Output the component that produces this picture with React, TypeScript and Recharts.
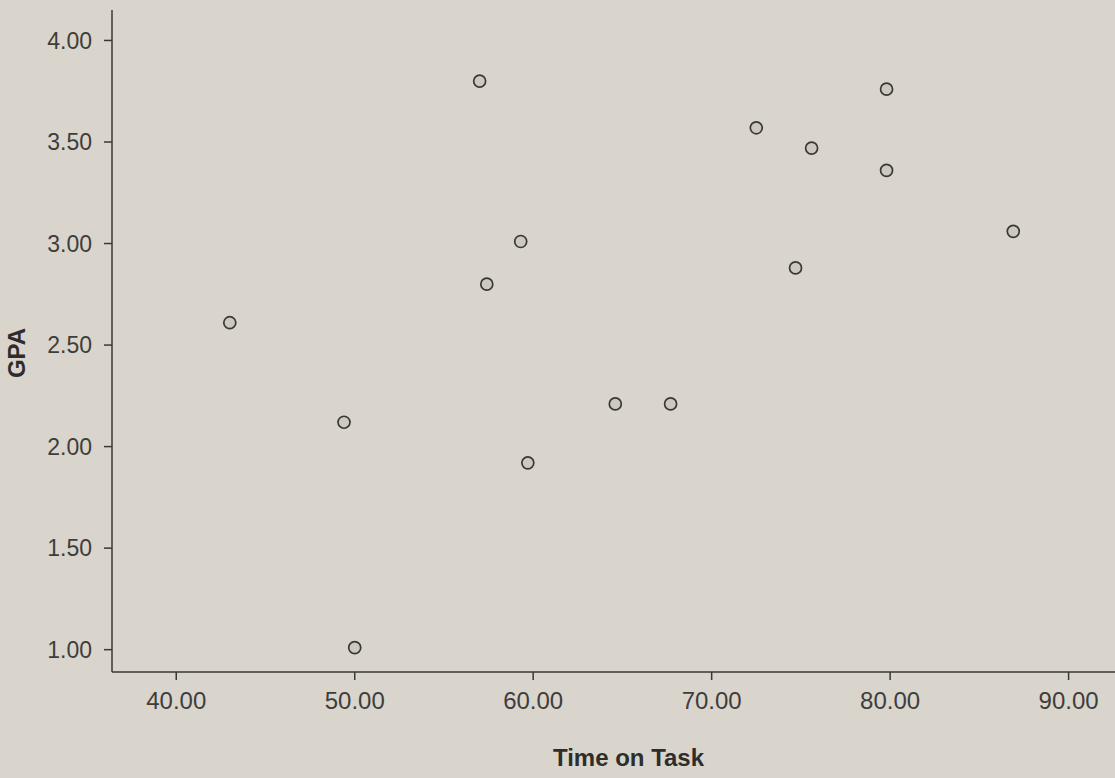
import React from "react";
import { ScatterChart, Scatter, XAxis, YAxis, Label } from "recharts";

const timeOnTask = [43.0, 49.4, 50.0, 57.0, 57.4, 59.3, 59.7, 64.6, 67.7, 72.5, 74.7, 75.6, 79.8, 79.8, 86.9];
const gpa = [2.61, 2.12, 1.01, 3.80, 2.80, 3.01, 1.92, 2.21, 2.21, 3.57, 2.88, 3.47, 3.76, 3.36, 3.06];
const xTicks = [40, 50, 60, 70, 80, 90];
const yTicks = [1.0, 1.5, 2.0, 2.5, 3.0, 3.5, 4.0];

const data = timeOnTask.map((t, i) => ({ x: t, y: gpa[i] }));

const Dot = (props: any) => {
  const { cx, cy } = props;
  if (cx == null || cy == null) return null;
  return <circle cx={cx} cy={cy} r={6} fill="#cdc8c0" stroke="#3a3836" strokeWidth={1.7} />;
};

const fmt = (v: number) => v.toFixed(2);
const FONT = "Liberation Sans, Arial, sans-serif";

export default function App() {
  return (
    <div style={{ position: "fixed", left: 0, top: 0, width: 1115, height: 778, background: "#d9d4cc" }}>
      <ScatterChart width={1115} height={778} margin={{ top: 10, right: 0, bottom: 0, left: 0 }}>
        <XAxis
          type="number"
          dataKey="x"
          domain={[36.4, 92.6]}
          ticks={xTicks}
          allowDataOverflow
          tickFormatter={fmt}
          height={106}
          tickSize={8}
          tickMargin={12}
          stroke="#3a3836"
          strokeWidth={1.5}
          tick={{ fill: "#3f3d3b", fontSize: 24, fontFamily: FONT }}
        >
          <Label
            value="Time on Task"
            position="insideBottom"
            offset={12}
            dx={15}
            style={{ fill: "#2f2d2b", fontSize: 24, fontWeight: "bold", fontFamily: FONT }}
          />
        </XAxis>
        <YAxis
          type="number"
          dataKey="y"
          domain={[0.89, 4.15]}
          ticks={yTicks}
          allowDataOverflow
          tickFormatter={fmt}
          width={112}
          tickSize={8}
          tickMargin={12}
          stroke="#3a3836"
          strokeWidth={1.5}
          tick={{ fill: "#3f3d3b", fontSize: 23, fontFamily: FONT }}
        >
          <Label
            value="GPA"
            angle={-90}
            position="insideLeft"
            offset={16}
            dy={12}
            style={{ fill: "#2f2d2b", fontSize: 24, fontWeight: "bold", fontFamily: FONT, textAnchor: "middle" }}
          />
        </YAxis>
        <Scatter data={data} shape={<Dot />} isAnimationActive={false} />
      </ScatterChart>
    </div>
  );
}
